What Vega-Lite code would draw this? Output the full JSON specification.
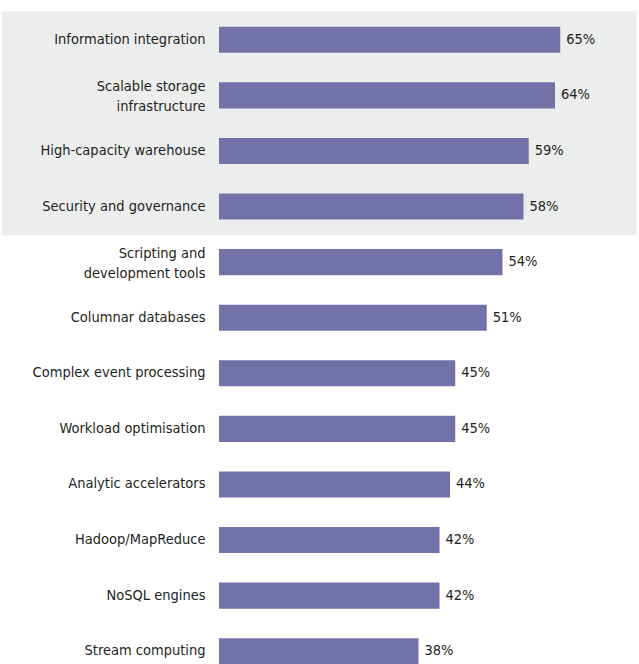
{
  "$schema": "https://vega.github.io/schema/vega-lite/v6.json",
  "autosize": {"type": "none"},
  "padding": {"left": 219, "top": 12, "right": 0, "bottom": 0},
  "width": 420,
  "height": 667,
  "background": "#ffffff",
  "config": {"view": {"stroke": null}, "font": "DejaVu Sans Condensed"},
  "data": {
    "values": [
      {"cat": "Information integration", "pct": 0.65, "top": true},
      {"cat": "Scalable storage|infrastructure", "pct": 0.64, "top": true},
      {"cat": "High-capacity warehouse", "pct": 0.59, "top": true},
      {"cat": "Security and governance", "pct": 0.58, "top": true},
      {"cat": "Scripting and|development tools", "pct": 0.54, "top": false},
      {"cat": "Columnar databases", "pct": 0.51, "top": false},
      {"cat": "Complex event processing", "pct": 0.45, "top": false},
      {"cat": "Workload optimisation", "pct": 0.45, "top": false},
      {"cat": "Analytic accelerators", "pct": 0.44, "top": false},
      {"cat": "Hadoop/MapReduce", "pct": 0.42, "top": false},
      {"cat": "NoSQL engines", "pct": 0.42, "top": false},
      {"cat": "Stream computing", "pct": 0.38, "top": false}
    ]
  },
  "encoding": {
    "y": {
      "field": "cat",
      "type": "nominal",
      "sort": null,
      "scale": {"paddingInner": 0.532, "paddingOuter": 0.266},
      "axis": {
        "title": null,
        "domain": false,
        "ticks": false,
        "zindex": 1,
        "labelPadding": 14,
        "labelFontSize": 14.5,
        "labelColor": "#231f20",
        "labelFont": "DejaVu Sans Condensed",
        "labelLineHeight": 20,
        "labelOffset": {"condition": {"test": "indexof(datum.label, '|') >= 0", "value": -8}, "value": 0},
        "labelExpr": "split(datum.label, '|')"
      }
    }
  },
  "layer": [
    {
      "transform": [{"filter": "datum.top"}],
      "mark": {"type": "bar", "color": "#eceeed", "height": {"band": 2.2}},
      "encoding": {
        "x": {"datum": -0.413, "type": "quantitative", "scale": {"domain": [0, 0.7955]}, "axis": null},
        "x2": {"datum": 0.7955}
      }
    },
    {
      "mark": {"type": "bar", "color": "#7372a8"},
      "encoding": {
        "x": {"field": "pct", "type": "quantitative", "scale": {"domain": [0, 0.7955]}, "axis": null}
      }
    },
    {
      "mark": {"type": "text", "align": "left", "dx": 6, "fontSize": 14.5, "color": "#231f20", "font": "DejaVu Sans Condensed"},
      "encoding": {
        "x": {"field": "pct", "type": "quantitative"},
        "text": {"field": "pct", "type": "quantitative", "format": ".0%"}
      }
    }
  ]
}
